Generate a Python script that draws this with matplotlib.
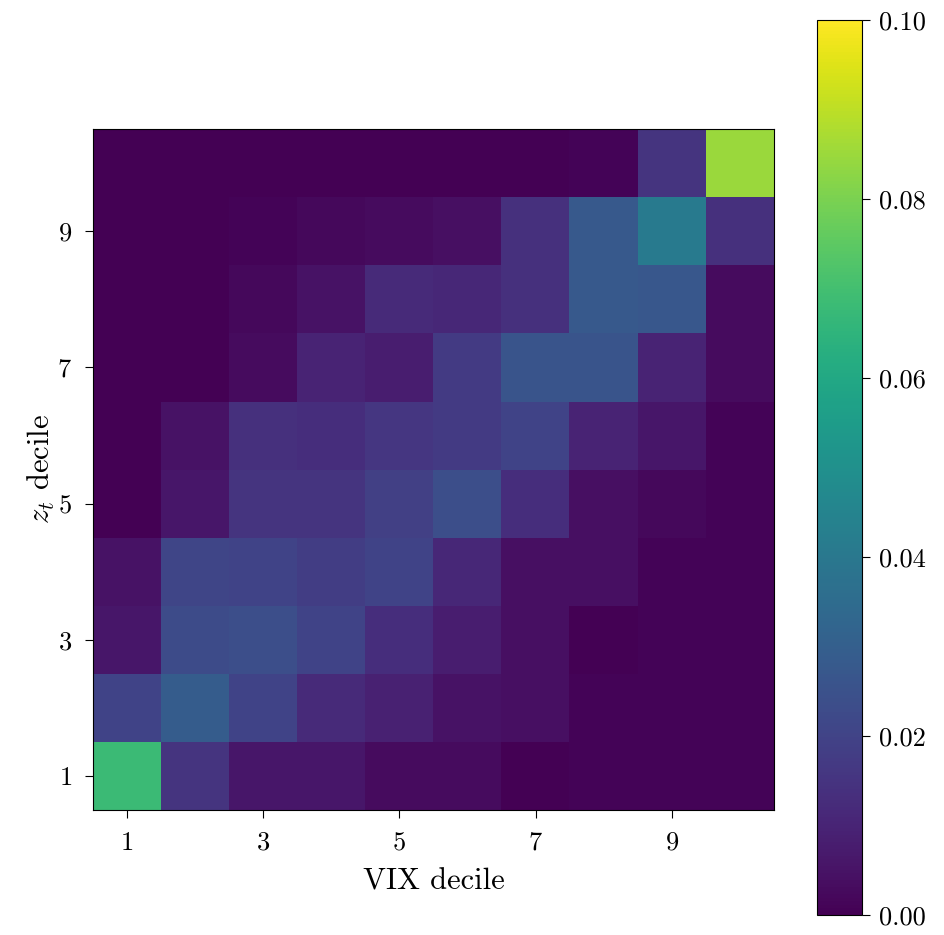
import matplotlib

matplotlib.use("Agg")
import matplotlib.pyplot as plt
import numpy as np
from matplotlib.ticker import FormatStrFormatter

plt.rcParams["font.family"] = "serif"
plt.rcParams["font.serif"] = ["cmr10", "DejaVu Serif"]
plt.rcParams["mathtext.fontset"] = "cm"
plt.rcParams["axes.formatter.use_mathtext"] = True

# joint frequency of (z_t decile, VIX decile); rows z decile 1..10, cols VIX decile 1..10
deciles = list(range(1, 11))
z01 = [0.068, 0.015, 0.006, 0.006, 0.003, 0.003, 0.000, 0.001, 0.001, 0.001]
z02 = [0.020, 0.029, 0.020, 0.012, 0.009, 0.005, 0.004, 0.001, 0.001, 0.001]
z03 = [0.006, 0.023, 0.024, 0.020, 0.013, 0.008, 0.004, 0.000, 0.001, 0.001]
z04 = [0.005, 0.021, 0.020, 0.018, 0.020, 0.011, 0.004, 0.004, 0.001, 0.001]
z05 = [0.000, 0.006, 0.015, 0.015, 0.019, 0.024, 0.013, 0.004, 0.002, 0.001]
z06 = [0.000, 0.005, 0.014, 0.013, 0.016, 0.017, 0.020, 0.010, 0.006, 0.001]
z07 = [0.000, 0.000, 0.003, 0.010, 0.008, 0.017, 0.026, 0.026, 0.010, 0.003]
z08 = [0.000, 0.000, 0.002, 0.005, 0.012, 0.011, 0.014, 0.028, 0.027, 0.003]
z09 = [0.000, 0.000, 0.001, 0.002, 0.003, 0.004, 0.014, 0.028, 0.041, 0.014]
z10 = [0.000, 0.000, 0.000, 0.000, 0.000, 0.000, 0.000, 0.001, 0.015, 0.085]

grid = np.array([z01, z02, z03, z04, z05, z06, z07, z08, z09, z10])

fig = plt.figure(figsize=(9.45, 9.35), dpi=100)
ax = fig.add_axes([0.0984, 0.1337, 0.7206, 0.7283])
cax = fig.add_axes([0.8646, 0.0214, 0.0476, 0.957])

im = ax.imshow(
    grid,
    origin="lower",
    cmap="viridis",
    vmin=0.0,
    vmax=0.1,
    extent=[0.5, 10.5, 0.5, 10.5],
    interpolation="nearest",
)
ax.set_xticks(deciles[::2])
ax.set_yticks(deciles[::2])
ax.tick_params(labelsize=19, length=6, pad=9)
ax.set_xlabel("VIX decile", fontsize=22, labelpad=10)
ax.set_ylabel(r"$z_t$ decile", fontsize=22, labelpad=0)

cb = fig.colorbar(im, cax=cax, ticks=[0.0, 0.02, 0.04, 0.06, 0.08, 0.10])
cb.ax.yaxis.set_major_formatter(FormatStrFormatter("%.2f"))
cb.ax.tick_params(labelsize=19, length=6, pad=6)

fig.savefig("out.png", dpi=100)
